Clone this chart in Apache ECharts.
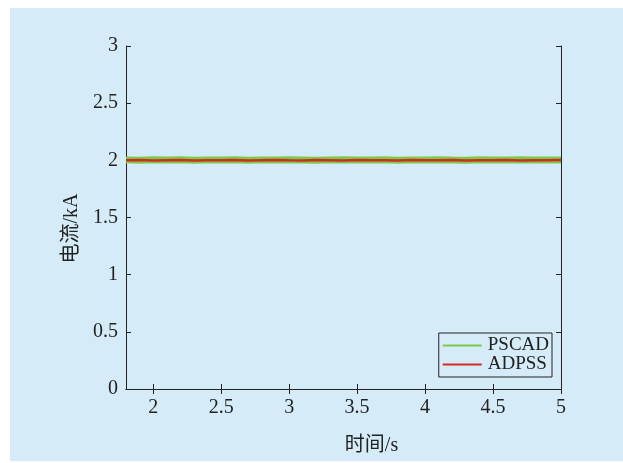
<!DOCTYPE html>
<html><head><meta charset="utf-8">
<script src="https://cdn.jsdelivr.net/npm/echarts@6/dist/echarts.min.js"></script>
<style>
html,body{margin:0;padding:0;background:#fff;width:623px;height:463px;overflow:hidden}
#bg{position:absolute;left:10px;top:8px;right:0;bottom:2px;background:#d5ecf8}
#c{position:absolute;left:0;top:0;width:623px;height:463px}
</style></head>
<body><div id="bg"></div><div id="c"></div>
<script>
const timeS = [1.8,1.9,2.0,2.1,2.2,2.3,2.4,2.5,2.6,2.7,2.8,2.9,3.0,3.1,3.2,3.3,3.4,3.5,3.6,3.7,3.8,3.9,4.0,4.1,4.2,4.3,4.4,4.5,4.6,4.7,4.8,4.9,5.0];
const pscad = [2.004,2.001,2.006,2.002,2.005,2.000,2.004,2.003,2.006,2.001,2.004,2.002,2.005,2.003,2.000,2.004,2.006,2.002,2.003,2.005,2.001,2.004,2.002,2.006,2.003,2.001,2.005,2.004,2.002,2.006,2.003,2.004,2.002];
const adpss = [2.000,2.002,1.999,2.001,2.003,1.998,2.001,2.000,2.002,1.999,2.001,2.003,2.000,1.998,2.002,2.001,1.999,2.003,2.000,2.001,1.998,2.002,2.000,2.001,2.003,1.999,2.001,2.000,2.002,1.998,2.001,2.000,2.002];
const xTicks = [2,2.5,3,3.5,4,4.5,5];
const yTicks = [0,0.5,1,1.5,2,2.5,3];
const xName = '时间/s';
const yName = '电流/kA';

const serif = '"Liberation Serif","Noto Sans CJK SC",serif';
const ink = '#222';
const chart = echarts.init(document.getElementById('c'));
const lineSt = {lineStyle:{color:ink,width:1}};
chart.setOption({
  backgroundColor:'transparent',
  animation:false,
  grid:{left:126,right:62,top:46,bottom:74},
  legend:{
    orient:'vertical', right:71, bottom:86,
    backgroundColor:'#d5ecf8', borderColor:ink, borderWidth:1,
    padding:[3,3,3,4], itemGap:0, itemWidth:39, itemHeight:2, icon:'rect',
    textStyle:{fontFamily:serif,fontSize:19,color:ink,padding:[0,0,0,1]},
    data:['PSCAD','ADPSS']
  },
  xAxis:[{
    type:'value', min:1.8, max:5, position:'bottom',
    name:xName, nameLocation:'middle', nameGap:47,
    nameTextStyle:{fontFamily:serif,fontSize:20,color:ink,padding:[0,0,0,56]},
    axisLine:lineSt, splitLine:{show:false},
    axisTick:{inside:true,length:5,customValues:xTicks,lineStyle:{color:ink}},
    axisLabel:{customValues:xTicks,fontFamily:serif,fontSize:20,color:ink,margin:9,formatter:v=>String(v)}
  },{
    type:'value', min:1.8, max:5, position:'top',
    axisLine:lineSt, splitLine:{show:false},
    axisTick:{inside:true,length:5,customValues:xTicks,lineStyle:{color:ink}},
    axisLabel:{show:false}
  }],
  yAxis:[{
    type:'value', min:0, max:3, interval:0.5, position:'left',
    name:yName, nameLocation:'middle', nameGap:42,
    nameTextStyle:{fontFamily:serif,fontSize:20,color:ink,padding:[0,22,0,0]},
    axisLine:{show:true,lineStyle:{color:ink,width:1}}, splitLine:{show:false},
    axisTick:{show:true,inside:true,length:5,lineStyle:{color:ink}},
    axisLabel:{fontFamily:serif,fontSize:20,color:ink,margin:8,formatter:v=>String(v)}
  },{
    type:'value', min:0, max:3, interval:0.5, position:'right',
    axisLine:{show:true,lineStyle:{color:ink,width:1}}, splitLine:{show:false},
    axisTick:{show:true,inside:true,length:5,lineStyle:{color:ink}},
    axisLabel:{show:false}
  }],
  series:[
    {name:'PSCAD',type:'line',showSymbol:false,symbol:'none',color:'#7cc94c',
     lineStyle:{width:7,color:'#7cc94c'},data:timeS.map((t,i)=>[t,pscad[i]])},
    {name:'ADPSS',type:'line',showSymbol:false,symbol:'none',color:'#d42a22',
     lineStyle:{width:2.5,color:'#d42a22'},data:timeS.map((t,i)=>[t,adpss[i]])}
  ]
});
</script></body></html>
